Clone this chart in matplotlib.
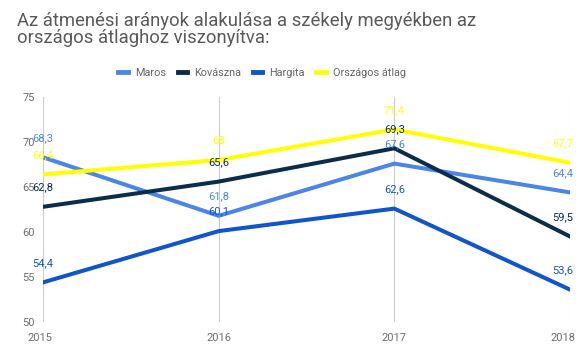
import matplotlib
matplotlib.use("Agg")
import matplotlib.pyplot as plt
import matplotlib.transforms as mtransforms
from matplotlib.lines import Line2D

plt.rcParams['font.family'] = ['Roboto', 'DejaVu Sans']

years = [2015, 2016, 2017, 2018]
year_labels = ["2015", "2016", "2017", "2018"]
maros = [68.3, 61.8, 67.6, 64.4]
kovaszna = [62.8, 65.6, 69.3, 59.5]
hargita = [54.4, 60.1, 62.6, 53.6]
orszagos = [66.4, 68.0, 71.4, 67.7]
series_names = ["Maros", "Kovászna", "Hargita", "Országos átlag"]
colors = ["#4a86e8", "#0c2c4c", "#1155cc", "#ffff00"]
yticks = [50, 55, 60, 65, 70, 75]

fig = plt.figure(figsize=(5.8, 3.6), dpi=100)
ax = fig.add_axes([43/580, 1-322/360, (570-43)/580, (322-97)/360])

all_series = [maros, kovaszna, hargita, orszagos]
for vals, col, name in zip(all_series, colors, series_names):
    ax.plot(years, vals, color=col, lw=2.9, solid_joinstyle='miter', label=name, zorder=3)
    for i, (x, v) in enumerate(zip(years, vals)):
        txt = (f"{v:.1f}".rstrip('0').rstrip('.')).replace('.', ',')
        dx = -5 if i == len(years) - 1 else 0
        ax.annotate(txt, (x, v), xytext=(dx, 14), textcoords='offset points',
                    ha='center', va='center', fontsize=8.0, color=col,
                    annotation_clip=False, zorder=4)

ax.set_xlim(2015, 2018)
ax.set_ylim(50, 75)
ax.set_xticks(years)
ax.set_xticklabels(year_labels)
ax.set_yticks(yticks)
ax.tick_params(axis='both', length=0, labelsize=8.0, labelcolor='#6f6f6f')
ax.tick_params(axis='y', pad=6)
ax.tick_params(axis='x', pad=8)
lbls = ax.get_xticklabels()
lbls[-1].set_transform(lbls[-1].get_transform() +
                       mtransforms.ScaledTranslation(-7/100, 0, fig.dpi_scale_trans))
lbls[0].set_transform(lbls[0].get_transform() +
                      mtransforms.ScaledTranslation(-3/100, 0, fig.dpi_scale_trans))
ax.grid(axis='x', color='#cccccc', lw=0.8)
ax.grid(axis='y', visible=False)
for s in ax.spines.values():
    s.set_visible(False)

fig.text(17/580, 1-12/360, "Az átmenési arányok alakulása a székely megyékben az\nországos átlaghoz viszonyítva:",
         ha='left', va='top', fontsize=13.3, color='#5a5a5a', linespacing=0.95)

handles = [Line2D([0], [0], color=c, lw=3.5) for c in colors]
fig.legend(handles, series_names, loc='center', bbox_to_anchor=(262/580, 1-73/360),
           ncol=4, frameon=False, fontsize=7.8, labelcolor='#666666',
           handlelength=0.85, handletextpad=0.65, columnspacing=1.1)

fig.savefig("out.png", dpi=100, facecolor='white')
